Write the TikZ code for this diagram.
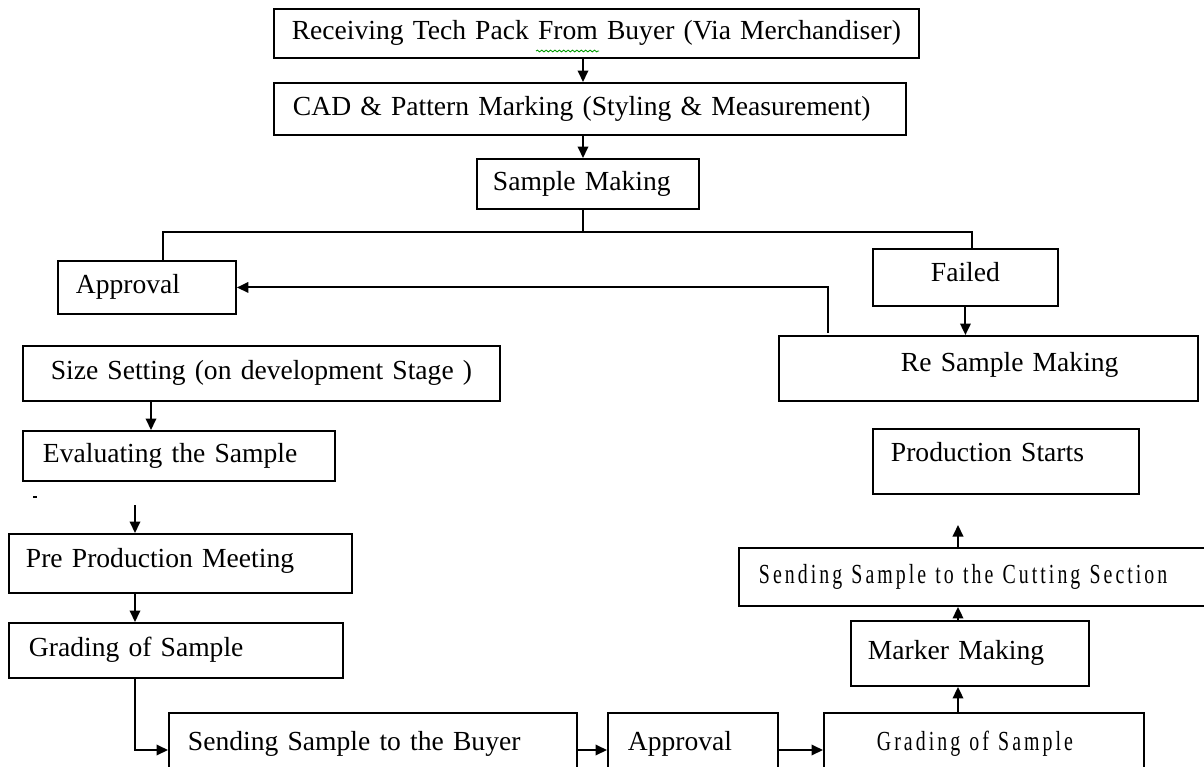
\documentclass[tikz,border=0pt]{standalone}
\usepackage{fontspec}
\setmainfont[WordSpace=0.7]{Liberation Serif}
\newfontfamily\narrowfont[FakeStretch=0.72, LetterSpace=11, WordSpace=1.6]{Liberation Serif}
\usetikzlibrary{%
  arrows.meta,%
  calc,%
  decorations.pathmorphing%
}

\begin{document}
\begin{tikzpicture}[
  x=0.02cm, y=-0.02cm,
  font=\fontsize{15.7}{18}\selectfont, >={Triangle[length=2.3mm,width=2.1mm]},
  line width=1.1pt,
  stepbox/.style={rectangle, draw=black, anchor=north west, inner xsep=0pt, inner ysep=0pt,
    align=left, text height=0.4cm, text depth=0.14cm},
  spellwave/.style={draw=green!60!black, line width=0.5pt, decorate,
    decoration={snake, amplitude=0.5pt, segment length=2.5pt}}
]
\clip (0,0) rectangle (1204,767);

% top chain
\node[stepbox, align=center, text width=12.9cm, minimum height=0.98cm] (recv) at (273,8) {Receiving Tech Pack From Buyer (Via Merchandiser)};
\node[stepbox, text width=12.64cm, minimum height=1.04cm] (cad) at (273,82) {\hspace*{0.38cm}CAD \& Pattern Marking (Styling \& Measurement)};
\node[stepbox, text width=4.44cm, minimum height=1cm] (smp) at (476,158) {\hspace*{0.32cm}Sample Making};

% branch
\node[stepbox, text width=3.56cm, minimum height=1.06cm] (appr1) at (57,260) {\hspace*{0.36cm}Approval};
\node[stepbox, align=center, text width=3.7cm, minimum height=1.14cm, text depth=0.22cm] (fail) at (872,248) {Failed};
\node[stepbox, text width=8.38cm, minimum height=1.3cm, text depth=0.26cm] (resmp) at (778,335) {\hspace*{2.44cm}Re Sample Making};

% left column
\node[stepbox, align=center, text width=9.54cm, minimum height=1.1cm] (size) at (22,345) {Size Setting (on development Stage )};
\node[stepbox, text width=6.24cm, minimum height=1cm] (eval) at (22,430) {\hspace*{0.4cm}Evaluating the Sample};
\node[stepbox, text width=6.86cm, minimum height=1.18cm, text depth=0.22cm] (pre) at (8,533) {\hspace*{0.34cm}Pre Production Meeting};
\node[stepbox, text width=6.68cm, minimum height=1.1cm] (grd1) at (8,622) {\hspace*{0.4cm}Grading of Sample};

% bottom row
\node[stepbox, text width=8.16cm, minimum height=1.24cm] (send) at (168,712) {\hspace*{0.38cm}Sending Sample to the Buyer};
\node[stepbox, text width=3.4cm, minimum height=1.24cm] (appr2) at (607,712) {\hspace*{0.4cm}Approval};
\node[stepbox, text width=6.4cm, minimum height=1.24cm] (grd2) at (823,712) {\hspace*{1.06cm}{\narrowfont Grading of Sample}};

% right column
\node[stepbox, text width=4.76cm, minimum height=1.3cm] (mark) at (850,620) {\hspace*{0.34cm}Marker Making};
\node[stepbox, text width=9.4cm, minimum height=1.16cm] (cut) at (738,547) {\hspace*{0.4cm}{\narrowfont Sending Sample to the Cutting Section}};
\node[stepbox, text width=5.32cm, minimum height=1.3cm, text depth=0.38cm] (prod) at (872,428) {\hspace*{0.36cm}Production Starts};

\coordinate (spine) at (583,0);
\coordinate (lft) at (163,232);
\coordinate (rgt) at (972,232);
\coordinate (ret) at (828,333);
\coordinate (lcol) at (135,505);
\coordinate (scol) at (151,0);
\coordinate (row) at (0,750);
\coordinate (rcol) at (958,0);

% spell-check underline below "From"
\draw[spellwave] (536,51) -- (599,51);

\draw[->] (recv.south -| spine) -- (cad.north -| spine);
\draw[->] (cad.south -| spine) -- (smp.north -| spine);
\draw (smp.south -| spine) -- (lft -| spine);
\draw (appr1.north -| lft) |- (rgt) -- (fail.north -| rgt);
\draw[->] (fail.south) -- (fail.south |- resmp.north);
\draw[->] (ret) |- (appr1.east);

\draw[->] (size.south -| scol) -- (eval.north -| scol);
\fill (33,496) rectangle (37,498);
\draw[->] (lcol) -- (pre.north -| lcol);
\draw[->] (pre.south -| lcol) -- (grd1.north -| lcol);
\draw[->] (grd1.south -| lcol) |- (send.west |- row);
\draw[->] (send.east |- row) -- (appr2.west |- row);
\draw[->] (appr2.east |- row) -- (grd2.west |- row);

\draw[->] (grd2.north -| rcol) -- (mark.south -| rcol);
\draw[->] (mark.north -| rcol) -- (cut.south -| rcol);
\draw[->] (cut.north -| rcol) -- ++(0,-22);
\end{tikzpicture}
\end{document}
